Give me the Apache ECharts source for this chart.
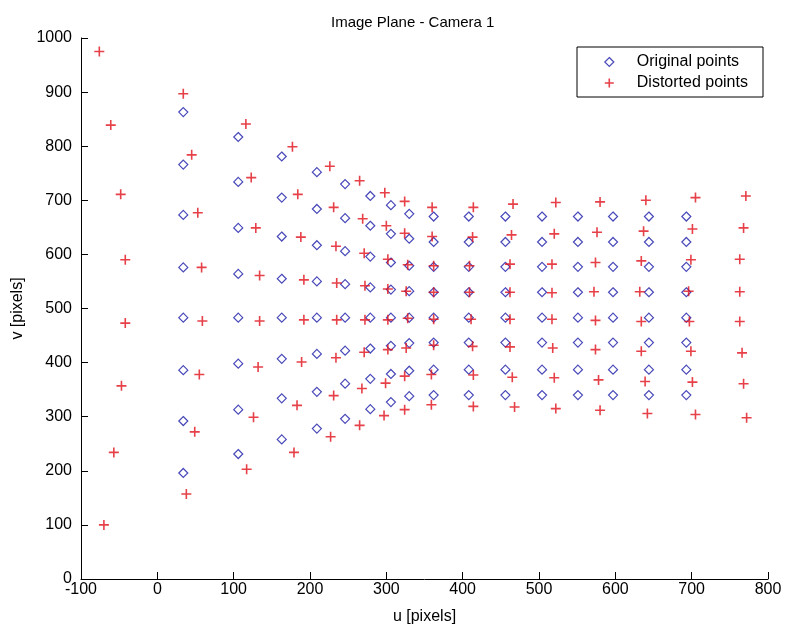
<!DOCTYPE html>
<html><head><meta charset="utf-8">
<script src="https://cdn.jsdelivr.net/npm/echarts@6.0.0/dist/echarts.min.js"></script>
<style>html,body{margin:0;padding:0;background:#fff}#c{width:785px;height:630px}</style>
</head><body><div id="c"></div>
<script>
// ---- data ----
const titleText = 'Image Plane - Camera 1';
const xName = 'u [pixels]';
const yName = 'v [pixels]';
const seriesNames = ['Original points', 'Distorted points'];

// Original points: one u per column, 8 v values per column
const origU = [34, 106, 163, 209, 246, 279, 306, 330, 362, 408, 456, 504, 551, 597, 644, 693];
const origV = [
  [863, 766, 673, 576, 483, 386, 292, 196],
  [817, 734, 649, 564, 483, 398, 313, 231],
  [781, 705, 633, 555, 483, 407, 334, 258],
  [752, 684, 617, 550, 483, 416, 346, 278],
  [730, 667, 606, 545, 483, 422, 361, 296],
  [708, 653, 596, 539, 483, 426, 370, 314],
  [691, 638, 585, 535, 483, 431, 379, 327],
  [675, 629, 579, 532, 483, 436, 385, 338],
  [670, 623, 577, 530, 483, 437, 387, 340],
  [670, 623, 577, 530, 483, 437, 387, 340],
  [670, 623, 577, 530, 483, 437, 387, 340],
  [670, 623, 577, 530, 483, 437, 387, 340],
  [670, 623, 577, 530, 483, 437, 387, 340],
  [670, 623, 577, 530, 483, 437, 387, 340],
  [670, 623, 577, 530, 483, 437, 387, 340],
  [670, 623, 577, 530, 483, 437, 387, 340]
];

// Distorted points: u and v per column
const distU = [
  [-76, -61, -48, -42, -42, -47, -57, -70],
  [34, 45, 53, 58, 59, 55, 49, 38],
  [116, 123, 129, 134, 134, 132, 126, 117],
  [177, 184, 188, 192, 192, 189, 183, 179],
  [226, 231, 234, 235, 235, 234, 231, 227],
  [265, 269, 271, 272, 272, 271, 268, 265],
  [298, 300, 302, 302, 302, 302, 299, 297],
  [324, 324, 328, 326, 328, 326, 324, 324],
  [360, 360, 362, 362, 362, 362, 359, 359],
  [414, 413, 409, 409, 411, 413, 414, 414],
  [466, 464, 462, 462, 462, 462, 465, 468],
  [522, 520, 517, 517, 517, 518, 520, 522],
  [580, 576, 574, 572, 574, 574, 578, 580],
  [640, 637, 634, 632, 634, 634, 639, 642],
  [705, 701, 699, 696, 697, 699, 701, 705],
  [771, 768, 763, 763, 763, 766, 768, 772]
];
const distV = [
  [975, 839, 711, 590, 473, 357, 234, 100],
  [897, 784, 677, 576, 477, 378, 272, 157],
  [841, 742, 649, 561, 477, 392, 299, 203],
  [799, 711, 632, 553, 479, 401, 321, 234],
  [763, 687, 615, 547, 479, 409, 339, 263],
  [736, 666, 602, 542, 479, 419, 352, 284],
  [714, 653, 591, 536, 479, 424, 362, 302],
  [698, 639, 581, 532, 482, 427, 375, 313],
  [687, 633, 579, 530, 480, 432, 378, 322],
  [687, 632, 579, 530, 480, 430, 377, 319],
  [693, 636, 582, 530, 480, 429, 373, 318],
  [696, 638, 582, 529, 480, 427, 372, 315],
  [697, 641, 585, 531, 478, 424, 368, 312],
  [700, 643, 588, 531, 476, 421, 365, 306],
  [705, 647, 590, 532, 476, 421, 364, 304],
  [708, 649, 591, 531, 476, 418, 361, 298]
];

const xMin = -100, xMax = 800, xStep = 100;
const yMin = 0, yMax = 1000, yStep = 100;

// ---- build ----
const origData = [];
origU.forEach((u, i) => origV[i].forEach(v => origData.push([u, v])));
const distData = [];
distU.forEach((col, i) => col.forEach((u, j) => distData.push([u, distV[i][j]])));

const BLUE = '#1a1aa8';
const RED = '#e0101a';
const FONT = 'Liberation Sans, Arial, sans-serif';
const PLUS = 'path://M0,5L10,5M5,0L5,10';

const chart = echarts.init(document.getElementById('c'), null, {renderer: 'canvas'});
chart.setOption({
  backgroundColor: '#fff',
  animation: false,
  title: {
    text: titleText, left: 326, top: 10,
    textStyle: {fontFamily: FONT, fontSize: 15, fontWeight: 'normal', color: '#000'}
  },
  grid: {left: 81, right: 17, top: 38, bottom: 49, containLabel: false},
  xAxis: {
    type: 'value', min: xMin, max: xMax, interval: xStep,
    name: xName, nameLocation: 'middle', nameGap: 30,
    nameTextStyle: {fontFamily: FONT, fontSize: 16, color: '#000'},
    axisLine: {show: true, onZero: false, lineStyle: {color: '#000', width: 1}},
    axisTick: {show: true, inside: true, length: 7, lineStyle: {color: '#000'}},
    axisLabel: {fontFamily: FONT, fontSize: 16, color: '#000', margin: 3, formatter: v => String(v)},
    splitLine: {show: false}
  },
  yAxis: {
    type: 'value', min: yMin, max: yMax, interval: yStep,
    name: yName, nameLocation: 'middle', nameGap: 50,
    nameTextStyle: {fontFamily: FONT, fontSize: 16, color: '#000'},
    axisLine: {show: true, onZero: false, lineStyle: {color: '#000', width: 1}},
    axisTick: {show: true, inside: true, length: 7, lineStyle: {color: '#000'}},
    axisLabel: {fontFamily: FONT, fontSize: 16, color: '#000', margin: 9, formatter: v => String(v)},
    splitLine: {show: false}
  },
  graphic: [{
    type: 'rect', z: 3, silent: true,
    shape: {x: 577, y: 47, width: 186, height: 50},
    style: {fill: '#fff', stroke: '#000', lineWidth: 1}
  }],
  legend: {
    orient: 'vertical', left: 599, top: 49, z: 5,
    itemWidth: 9, itemHeight: 9, itemGap: 5,
    textStyle: {fontFamily: FONT, fontSize: 16, color: '#000', padding: [0, 0, 0, 18]},
    data: [
      {name: seriesNames[0], icon: 'diamond',
       itemStyle: {color: 'rgba(0,0,0,0)', borderColor: BLUE, borderWidth: 1.2}},
      {name: seriesNames[1], icon: PLUS,
       itemStyle: {color: 'rgba(0,0,0,0)', borderColor: RED, borderWidth: 1.6}}
    ]
  },
  series: [
    {
      name: seriesNames[0], type: 'scatter', data: origData,
      symbol: 'diamond', symbolSize: 9,
      itemStyle: {color: 'rgba(0,0,0,0)', borderColor: BLUE, borderWidth: 1.2}
    },
    {
      name: seriesNames[1], type: 'scatter', data: distData,
      symbol: PLUS, symbolSize: 10,
      itemStyle: {color: 'rgba(0,0,0,0)', borderColor: RED, borderWidth: 1.6}
    }
  ]
});
</script>
</body></html>
